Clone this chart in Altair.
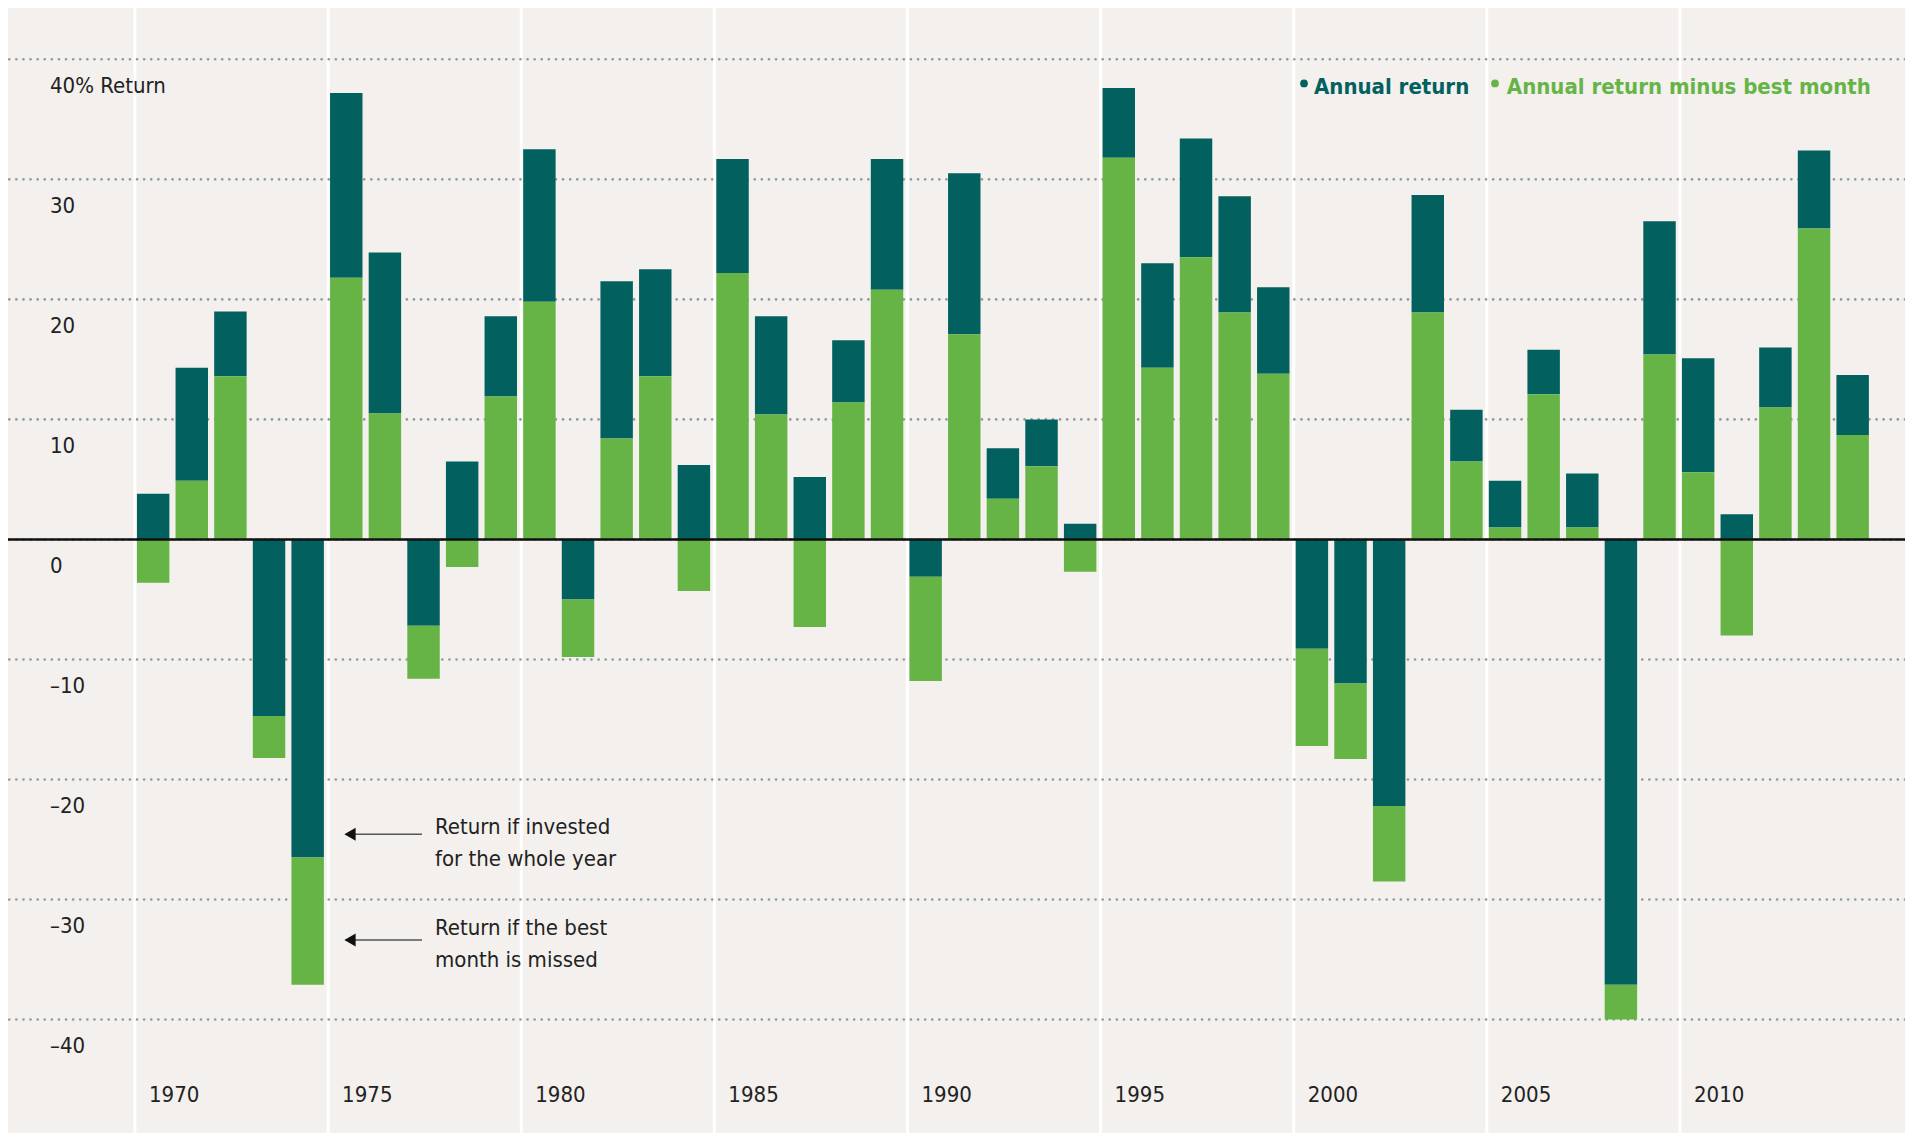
import altair as alt
import pandas as pd

# ---- data ----
years = list(range(1970, 2015))
annual_return = [3.8, 14.3, 19.0, -14.7, -26.5, 37.2, 23.9, -7.2, 6.5, 18.6,
                 32.5, -5.0, 21.5, 22.5, 6.2, 31.7, 18.6, 5.2, 16.6, 31.7,
                 -3.1, 30.5, 7.6, 10.0, 1.3, 37.6, 23.0, 33.4, 28.6, 21.0,
                 -9.1, -12.0, -22.2, 28.7, 10.8, 4.9, 15.8, 5.5, -37.1, 26.5,
                 15.1, 2.1, 16.0, 32.4, 13.7]
minus_best_month = [-3.6, 4.9, 13.6, -18.2, -37.1, 21.8, 10.5, -11.6, -2.3, 11.9,
                    19.8, -9.8, 8.4, 13.6, -4.3, 22.2, 10.4, -7.3, 11.4, 20.8,
                    -11.8, 17.1, 3.4, 6.1, -2.7, 31.8, 14.3, 23.5, 18.9, 13.8,
                    -17.2, -18.3, -28.5, 18.9, 6.5, 1.0, 12.1, 1.0, -40.0, 15.4,
                    5.6, -8.0, 11.0, 25.9, 8.7]
grid_values = [40, 30, 20, 10, 0, -10, -20, -30, -40]
grid_labels = ["40% Return", "30", "20", "10", "0", "\u201310", "\u201320", "\u201330", "\u201340"]
year_ticks = [1970, 1975, 1980, 1985, 1990, 1995, 2000, 2005, 2010]
legend_labels = ["Annual return", "Annual return minus best month"]
note_lines_1 = ["Return if invested", "for the whole year"]
note_lines_2 = ["Return if the best", "month is missed"]

# ---- styling ----
FONT = "Liberation Sans Narrow, DejaVu Sans Condensed, sans-serif"
FS = 22
BG = "#F3F0ED"
DARK = "#02605F"
GREEN = "#66B446"
GRID = "#8C9DA1"
TXT = "#222222"

W, H = 1897, 1125
XDOM = [1966.712, 1966.712 + W / 38.625]
YDOM = [-49.45, 44.275]
xs = alt.Scale(domain=XDOM, nice=False, zero=False)
ys = alt.Scale(domain=YDOM, nice=False, zero=False)

bars = pd.DataFrame({"year": years, "annual": annual_return, "minus": minus_best_month})
grid_df = pd.DataFrame({"v": grid_values, "label": grid_labels})
ticks_df = pd.DataFrame({"year": year_ticks, "label": [str(y) for y in year_ticks]})
zero_df = pd.DataFrame({"v": [0]})
one = pd.DataFrame({"a": [0]})

vlines = alt.Chart(ticks_df).mark_rule(color="white", strokeWidth=3).encode(
    x=alt.X("year:Q", scale=xs, axis=None))

hgrid = alt.Chart(grid_df).mark_rule(
    color=GRID, strokeWidth=2.6, strokeDash=[0.1, 7], strokeCap="round").encode(
    y=alt.Y("v:Q", scale=ys, axis=None))

base = alt.Chart(bars).transform_calculate(
    x0="datum.year + 0.05", x1="datum.year + 0.89",
    dark_lo="max(datum.minus, 0)", green_hi="min(datum.annual, 0)")

dark = base.mark_rect(color=DARK).encode(
    x=alt.X("x0:Q", scale=xs, axis=None), x2="x1:Q",
    y=alt.Y("annual:Q", scale=ys, axis=None), y2="dark_lo:Q")

green = base.mark_rect(color=GREEN).encode(
    x=alt.X("x0:Q", scale=xs, axis=None), x2="x1:Q",
    y=alt.Y("minus:Q", scale=ys, axis=None), y2="green_hi:Q")

zero = alt.Chart(zero_df).mark_rule(color="#111111", strokeWidth=2.6).encode(
    y=alt.Y("v:Q", scale=ys, axis=None))

ylabels = alt.Chart(grid_df).mark_text(
    font=FONT, fontSize=FS, color=TXT, align="left", baseline="alphabetic", dy=33.5).encode(
    x=alt.value(42), y=alt.Y("v:Q", scale=ys, axis=None), text="label:N")

xlabels = alt.Chart(ticks_df).mark_text(
    font=FONT, fontSize=FS, color=TXT, align="left", baseline="alphabetic", dx=14).encode(
    x=alt.X("year:Q", scale=xs, axis=None), y=alt.value(1093.5), text="label:N")

def dot(px, col):
    return alt.Chart(one).mark_circle(size=60, opacity=1, color=col).encode(
        x=alt.value(px), y=alt.value(75.4))

def legtext(px, label, col, align):
    return alt.Chart(one).mark_text(
        font=FONT, fontSize=FS, fontWeight="bold", align=align, baseline="alphabetic",
        color=col, text=label).encode(x=alt.value(px), y=alt.value(86))

def arrow_line(py):
    return alt.Chart(one).mark_rule(color="#555555", strokeWidth=1.5).encode(
        x=alt.value(345), x2=alt.value(414), y=alt.value(py))

def arrow_head(py):
    return alt.Chart(one).mark_point(
        shape="triangle-left", filled=True, color="#111111", size=170, opacity=1).encode(
        x=alt.value(342), y=alt.value(py))

def note(lines, py):
    return alt.Chart(one).mark_text(
        font=FONT, fontSize=FS, color=TXT, align="left", baseline="alphabetic",
        lineHeight=32, text=lines).encode(x=alt.value(427), y=alt.value(py))

chart = alt.layer(
    vlines, hgrid, dark, green, zero, ylabels, xlabels,
    dot(1296, DARK), legtext(1306, legend_labels[0], DARK, "left"),
    dot(1487, GREEN), legtext(1862.8, legend_labels[1], GREEN, "right"),
    arrow_line(826.3), arrow_head(826.3), arrow_line(932.0), arrow_head(932.0),
    note(note_lines_1, 825.5), note(note_lines_2, 926.5)
).properties(
    width=W, height=H, padding=0, autosize=alt.AutoSizeParams(type="none"),
    background=BG
).configure_view(stroke=None, fill=BG)

chart.save("out.html", embed_options={"renderer": "svg", "actions": False})
